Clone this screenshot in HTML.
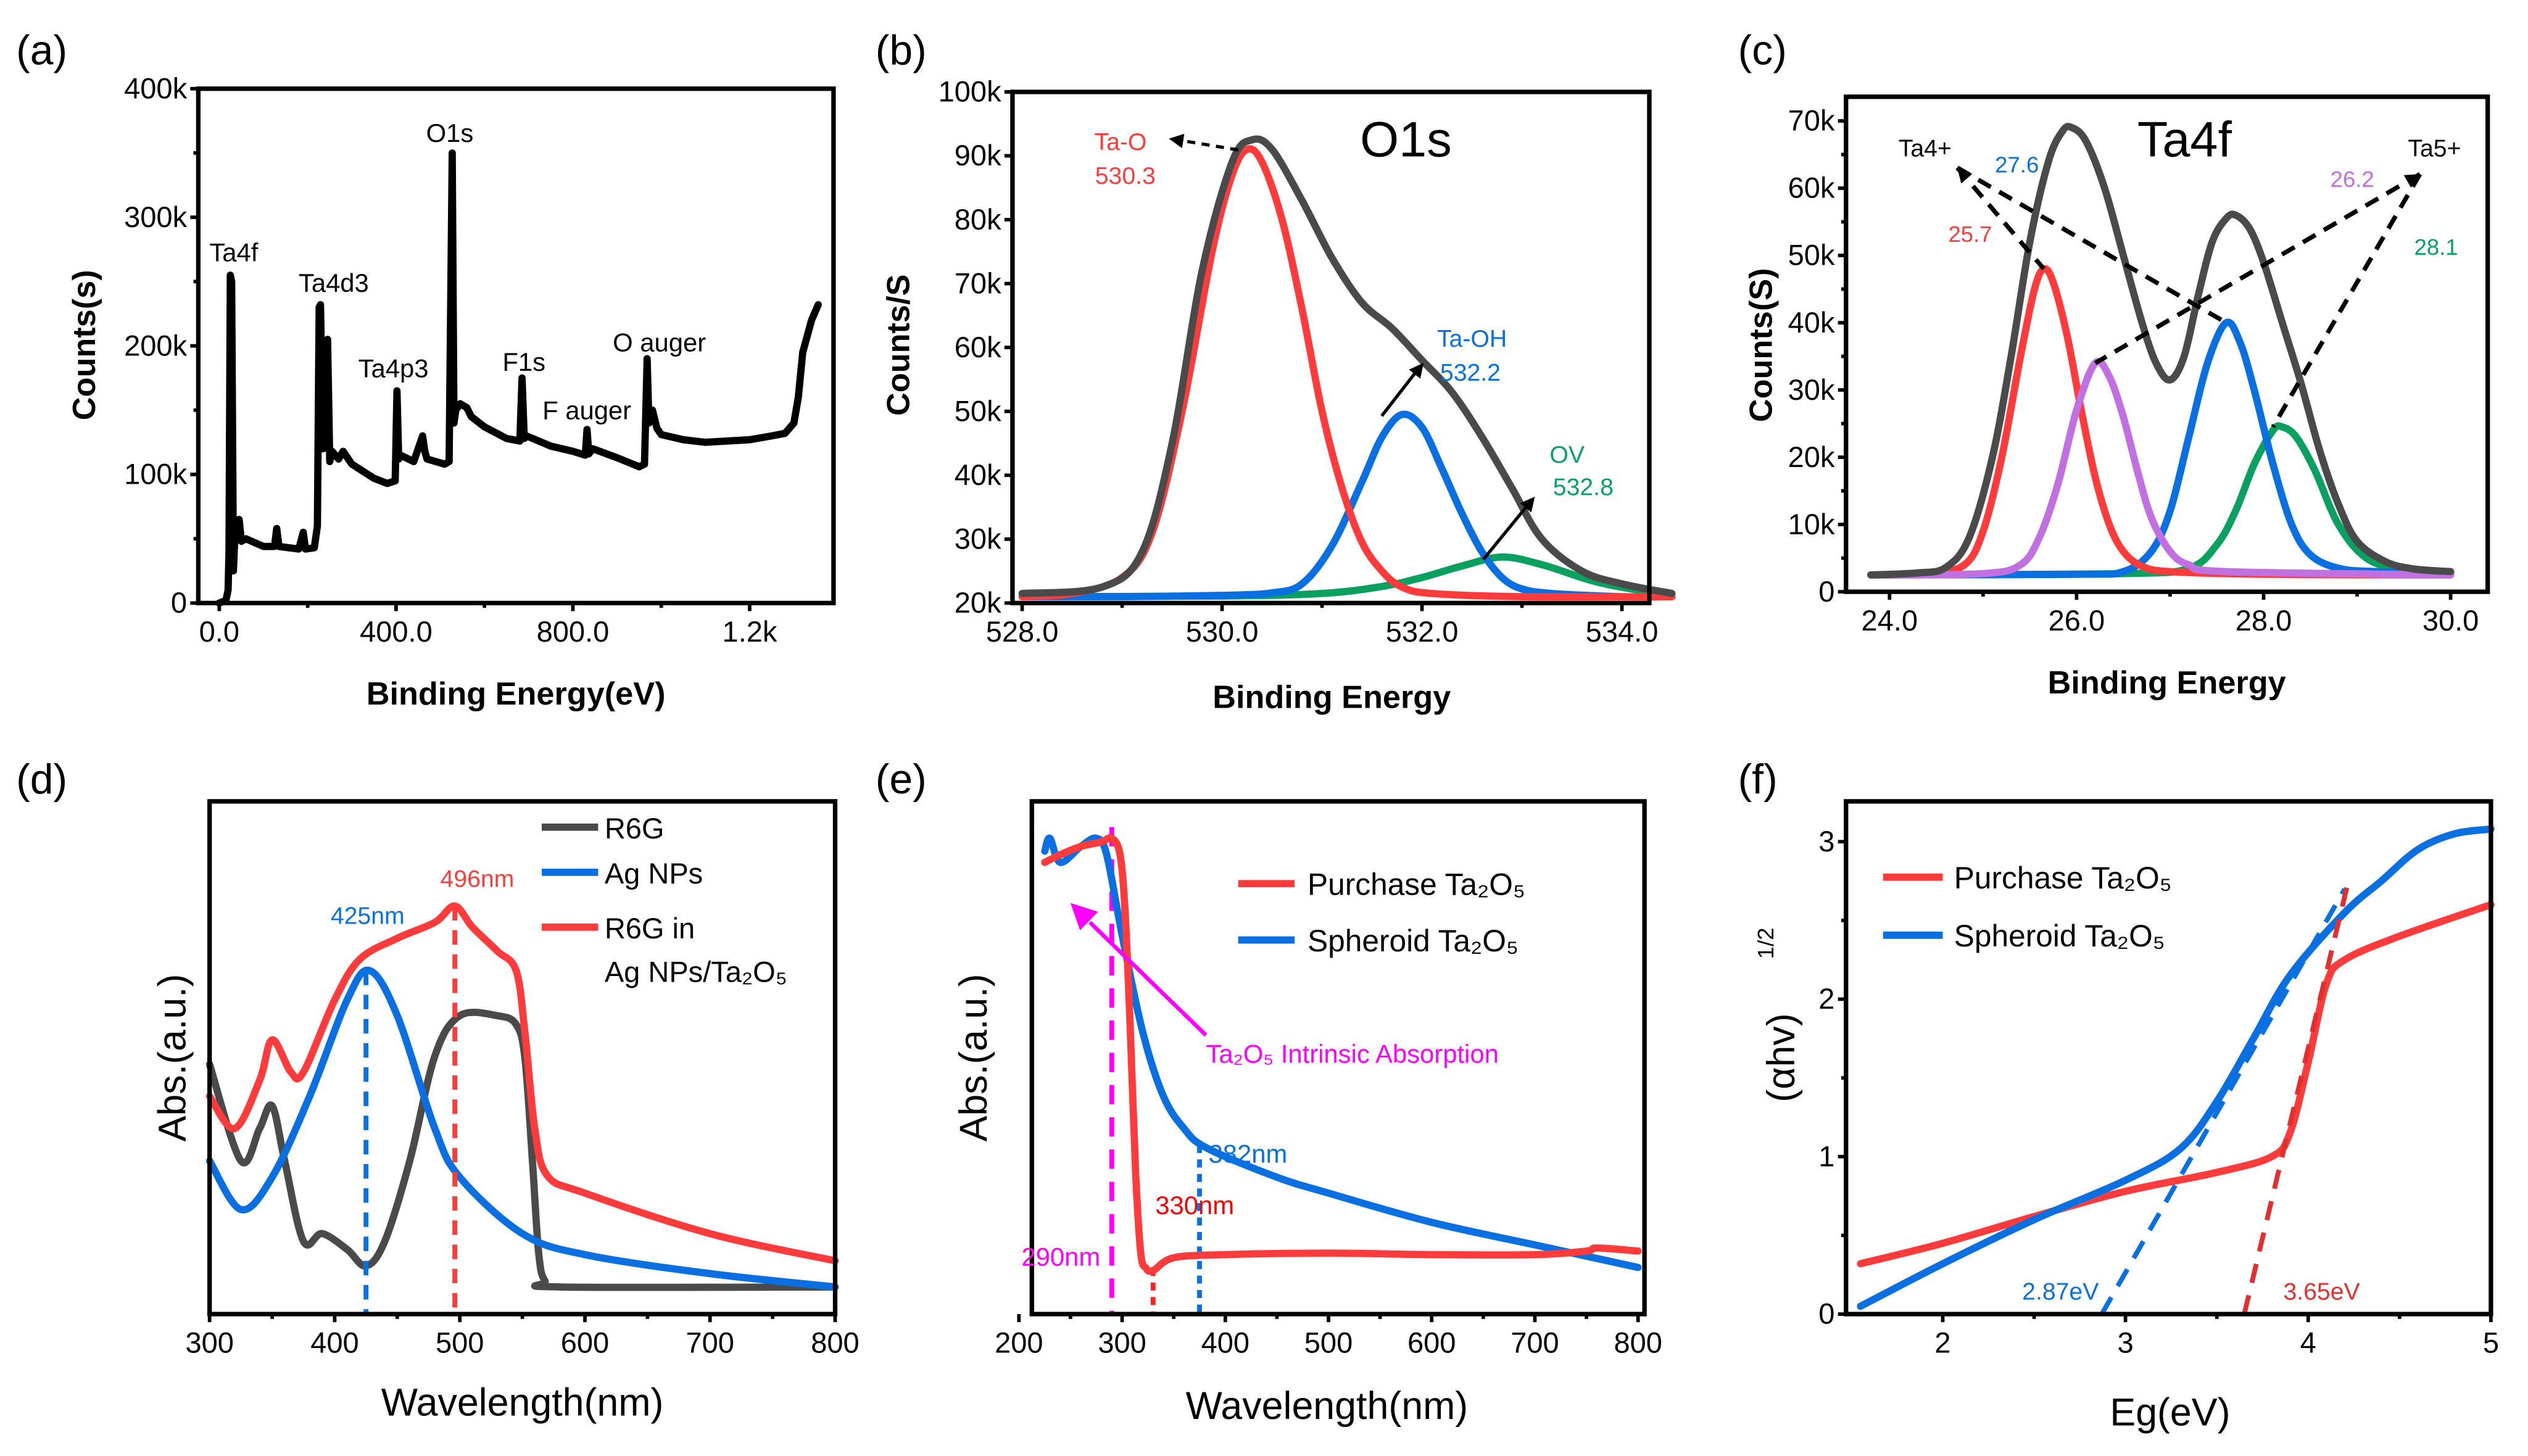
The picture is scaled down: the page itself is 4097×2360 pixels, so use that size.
<!DOCTYPE html>
<html><head><meta charset="utf-8"><style>
html,body{margin:0;padding:0;background:#fff}
svg{display:block}
text{font-family:"Liberation Sans",Arial,sans-serif}
</style></head><body>
<svg id="fig" xmlns="http://www.w3.org/2000/svg" width="4097" height="2360" viewBox="0 0 1568 903" preserveAspectRatio="none"></svg>
<script>
// ---------- data ----------
// (a) survey
const aX=[0,15,20,22,25,28,32,35,45,50,60,100,125,130,135,180,190,195,215,222,226,229,235,245,250,255,270,280,300,350,380,398,402,406,410,440,460,465,470,510,520,527,531,535,545,560,570,600,650,680,685,690,695,750,800,828,832,836,845,900,950,962,968,972,980,990,1000,1050,1100,1200,1250,1280,1300,1310,1320,1340,1355];
const aY=[0,2,10,40,255,250,25,50,65,48,50,44,44,58,44,42,55,42,43,60,230,232,120,205,110,118,112,118,108,97,93,95,165,112,115,110,130,118,112,108,110,350,140,150,155,152,145,137,128,126,175,128,130,122,118,115,135,116,120,113,106,108,190,140,150,136,131,127,125,127,130,132,140,160,195,220,232];
const aXt=[0,400,800,1200]; const aXl=["0.0","400.0","800.0","1.2k"];
const aYt=[0,100,200,300,400]; const aYl=["0","100k","200k","300k","400k"];
// (b) O1s
const bGx=[528,528.8,529.2,529.5,529.8,530.1,530.3,530.5,530.8,531.1,531.4,531.7,532,532.3,532.6,532.9,533.2,533.6,534,534.5];
const bGy=[21.5,22.5,28,45,72,89,92.5,91,83,74,67,63,58,53,46,38,30,25,23,21.5];
const bRx=[528,528.5,529,529.3,529.6,529.9,530.1,530.25,530.4,530.6,530.8,531.0,531.2,531.4,531.6,531.8,532.1,533,534.5];
const bRy=[21,21.5,24,31,50,75,87,91,89,80,66,50,38,29.5,25,22.5,21.5,21,21];
const bBx=[528,529,530,530.5,530.8,531.1,531.4,531.6,531.8,532.0,532.2,532.4,532.6,532.8,533.0,533.3,534,534.5];
const bBy=[21,21,21.2,21.6,23,29,39,46,49.5,47.5,41,34,28,24,22.2,21.5,21,21];
const bEx=[528,530,531,531.6,532,532.4,532.8,533.2,533.7,534.1,534.5];
const bEy=[21,21.1,21.5,22.6,24,25.8,27.2,26,23.5,22.2,21.5];
const bXt=[528,530,532,534]; const bXl=["528.0","530.0","532.0","534.0"];
const bYt=[20,30,40,50,60,70,80,90,100]; const bYl=["20k","30k","40k","50k","60k","70k","80k","90k","100k"];
// (c) Ta4f
const cGx=[23.8,24.3,24.6,24.85,25.1,25.3,25.5,25.7,25.85,25.95,26.1,26.3,26.5,26.7,26.85,27.0,27.15,27.3,27.45,27.6,27.7,27.85,28.0,28.2,28.4,28.6,28.8,29.0,29.3,29.6,30];
const cGy=[2.5,2.8,3.6,8,20,35,52,64,68.5,69,67,60,50,40,34,31.5,35,44,52,55.5,56,54,49,40,31,21,13,7.5,4.5,3.4,3];
const cRx=[23.8,24.4,24.8,25.0,25.2,25.4,25.55,25.65,25.75,25.9,26.05,26.2,26.35,26.5,26.7,27,28,30];
const cRy=[2.5,2.7,4,9,20,35,45,48,46,38,27,17,10,6,3.8,3,2.6,2.5];
const cPx=[23.8,25,25.4,25.6,25.8,26.0,26.2,26.35,26.5,26.65,26.8,27.0,27.2,27.6,30];
const cPy=[2.5,2.7,4,8,16,27,34,32,26,18,11,6,4,3,2.5];
const cBx=[23.8,26,26.5,26.8,27.0,27.2,27.4,27.6,27.75,27.9,28.1,28.3,28.5,28.8,29.2,30];
const cBy=[2.5,2.6,3,6,12,23,34,40,37,30,19,10,5.5,3.5,3,2.8];
const cEx=[23.8,26.5,27.2,27.5,27.7,27.9,28.1,28.2,28.35,28.55,28.8,29.1,29.5,30];
const cEy=[2.5,2.7,3.5,7,12,19,24,24.5,23,18,10,5,3.2,2.8];
const cXt=[24,26,28,30]; const cXl=["24.0","26.0","28.0","30.0"];
const cYt=[0,10,20,30,40,50,60,70]; const cYl=["0","10k","20k","30k","40k","50k","60k","70k"];
// (d) UV-vis
const dGx=[300,325,340,350,360,375,390,410,425,440,460,480,500,530,545,552,558,563,568,580,800];
const dGy=[48.7,29.9,36.2,40.6,29.9,14.2,15.7,12.6,9.4,14.2,29.9,50.3,58.2,58.2,56.5,50,30,12,6.5,5.3,5.3];
const dBx=[300,325,350,380,410,428,450,480,500,550,600,700,800];
const dBy=[29.9,20.4,26.7,42.5,61.3,67,58.2,36.2,26.7,15.7,11.6,7.9,5.3];
const dRx=[300,320,340,350,365,375,400,420,450,480,496,510,530,545,552,560,570,600,700,800];
const dRy=[42.5,36.2,45.6,53.5,47.2,47.2,61.3,69.2,73.3,76.4,79.6,75.5,70.8,67,55,36,27,23.6,15.7,10.4];
const dXt=[300,400,500,600,700,800];
// (e) UV-vis Ta2O5
const eRx=[225,240,260,280,290,298,303,308,313,318,323,330,350,400,500,600,700,750,760,800];
const eRy=[88.1,89.6,91.2,92.1,92.8,89.6,78,55,28,12,9,8.5,11,11.6,11.9,11.6,11.6,12.3,12.9,12.3];
const eBx=[225,230,240,260,275,285,300,320,340,360,382,450,500,600,700,800];
const eBy=[90.3,92.8,88.1,91.2,92.8,89.6,73.9,55,42.5,36.2,32.4,26.7,23.6,17.9,13.5,9.1];
const eXt=[200,300,400,500,600,700,800];
// (f) Tauc
const fRx=[1.55,2,2.5,3,3.5,3.8,3.9,4.0,4.1,4.2,4.5,5];
const fRy=[0.32,0.45,0.62,0.78,0.9,1.0,1.15,1.6,2.1,2.25,2.4,2.6];
const fBx=[1.55,2,2.5,3,3.3,3.5,3.7,3.9,4.2,4.4,4.6,4.8,5];
const fBy=[0.05,0.32,0.6,0.85,1.05,1.35,1.75,2.15,2.55,2.75,2.95,3.05,3.08];
const fXt=[2,3,4,5]; const fYt=[0,1,2,3];

// ---------- helpers ----------
const NS="http://www.w3.org/2000/svg", svg=document.getElementById('fig');
function mk(tag,attrs,name,parent){
  const el=document.createElementNS(NS,tag);
  for(const k in attrs) el.setAttribute(k,attrs[k]);
  
  
  (parent||svg).appendChild(el); return el;
}
function txt(x,y,s,size,name,o){
  o=o||{}; const a={x:x,y:y,'font-size':size,fill:o.fill||'#000','text-anchor':o.anchor||'middle'};
  if(o.bold) a['font-weight']='bold';
  if(o.rot) a.transform='rotate(-90 '+x+' '+y+')';
  const t=mk('text',a,name); t.textContent=s; return t;
}
function lin(d0,d1,r0,r1){return v=>r0+(v-d0)*(r1-r0)/(d1-d0);}
function smooth(pts){
  let d='M'+pts[0][0].toFixed(2)+','+pts[0][1].toFixed(2);
  for(let i=0;i<pts.length-1;i++){
    const p0=pts[i-1]||pts[i],p1=pts[i],p2=pts[i+1],p3=pts[i+2]||p2;
    const c1=[p1[0]+(p2[0]-p0[0])/6,p1[1]+(p2[1]-p0[1])/6];
    const c2=[p2[0]-(p3[0]-p1[0])/6,p2[1]-(p3[1]-p1[1])/6];
    d+='C'+c1.map(v=>v.toFixed(2))+' '+c2.map(v=>v.toFixed(2))+' '+p2.map(v=>v.toFixed(2));
  }
  return d;
}
function series(xs,ys,sx,sy,color,name,w,sm){
  const pts=xs.map((x,i)=>[sx(x),sy(ys[i])]);
  const d=sm?smooth(pts):'M'+pts.map(p=>p[0].toFixed(2)+','+p[1].toFixed(2)).join('L');
  mk('path',{d:d,fill:'none',stroke:color,'stroke-width':w||4.5,'stroke-linejoin':'round','stroke-linecap':'round'},name);
}
function frame(x0,y0,x1,y1,name){
  mk('rect',{x:x0,y:y0,width:x1-x0,height:y1-y0,fill:'none',stroke:'#000','stroke-width':2.8},name);
}
function xticks(ts,ls,sx,y,size,name,minor){
  ts.forEach((t,i)=>{
    const x=sx(t);
    mk('line',{x1:x,y1:y,x2:x,y2:y+5,stroke:'#000','stroke-width':2.2},name+'-tick');
    if(ls) txt(x,y+24,ls[i],size,name+'-label');
    if(minor && i<ts.length-1){const xm=(x+sx(ts[i+1]))/2; mk('line',{x1:xm,y1:y,x2:xm,y2:y+3,stroke:'#000','stroke-width':2.2},name+'-minor-tick');}
  });
}
function yticks(ts,ls,sy,x,size,name,minor){
  ts.forEach((t,i)=>{
    const y=sy(t);
    mk('line',{x1:x,y1:y,x2:x-5,y2:y,stroke:'#000','stroke-width':2.2},name+'-tick');
    if(ls) txt(x-7,y+6,ls[i],size,name+'-label',{anchor:'end'});
    if(minor && i<ts.length-1){const ym=(y+sy(ts[i+1]))/2; mk('line',{x1:x,y1:ym,x2:x-3,y2:ym,stroke:'#000','stroke-width':2.2},name+'-minor-tick');}
  });
}
function dash(x1,y1,x2,y2,color,name,da,w){
  mk('line',{x1:x1,y1:y1,x2:x2,y2:y2,stroke:color,'stroke-width':w||3,'stroke-dasharray':da||'9,6'},name);
}
function arrowHead(x1,y1,x2,y2,color,name,s){
  s=s||9; const a=Math.atan2(y2-y1,x2-x1);
  const p=[[x2,y2],[x2-s*Math.cos(a)+s*0.5*Math.sin(a),y2-s*Math.sin(a)-s*0.5*Math.cos(a)],[x2-s*Math.cos(a)-s*0.5*Math.sin(a),y2-s*Math.sin(a)+s*0.5*Math.cos(a)]];
  mk('polygon',{points:p.map(q=>q.join(',')).join(' '),fill:color},name);
}

// ---------- (a) ----------
{
 const sx=lin(0,1200,136,465), sy=lin(0,400,374,55);
 txt(10,40,'(a)',26,'panel-label-a',{anchor:'start'});
 series(aX,aY,sx,sy,'#000','survey-spectrum',4.5,false);
 frame(123,55,517,374,'plot-frame-a');
 xticks(aXt,aXl,sx,374,18,'x-axis-a',true);
 yticks(aYt,aYl,sy,123,18,'y-axis-a',true);
 txt(320,437,'Binding Energy(eV)',20,'x-axis-title-a',{bold:true});
 txt(59,214,'Counts(s)',20,'y-axis-title-a',{bold:true,rot:true});
 [['Ta4f',145,162],['Ta4d3',207,181],['Ta4p3',244,234],['O1s',279,88],['F1s',325,230],['F auger',364,260],['O auger',409,218]].forEach(l=>txt(l[1],l[2],l[0],16,'peak-label-'+l[0].replace(' ','-').toLowerCase()));
}
// ---------- (b) ----------
{
 const sx=lin(528,534,634,1006), sy=lin(20,100,374,57);
 txt(543,40,'(b)',26,'panel-label-b',{anchor:'start'});
 series(bEx,bEy,sx,sy,'#0aa060','ov-peak',4.5,true);
 series(bBx,bBy,sx,sy,'#0a6fe0','ta-oh-peak',4.5,true);
 series(bRx,bRy,sx,sy,'#ff3b3b','ta-o-peak',4.5,true);
 series(bGx,bGy,sx,sy,'#4a4a4a','o1s-envelope',4.5,true);
 frame(628,57,1023,374,'plot-frame-b');
 xticks(bXt,bXl,sx,374,18,'x-axis-b',true);
 yticks(bYt,bYl,sy,628,18,'y-axis-b',false);
 txt(826,439,'Binding Energy',20,'x-axis-title-b',{bold:true});
 txt(564,214,'Counts/S',20,'y-axis-title-b',{bold:true,rot:true});
 txt(872,97,'O1s',31,'plot-title-o1s');
 txt(695,93,'Ta-O',15,'label-ta-o',{fill:'#ff3b3b'}); txt(698,114,'530.3',15,'label-ta-o-value',{fill:'#ff3b3b'});
 txt(913,215,'Ta-OH',15,'label-ta-oh',{fill:'#0a6fe0'}); txt(912,236,'532.2',15,'label-ta-oh-value',{fill:'#0a6fe0'});
 txt(972,287,'OV',15,'label-ov',{fill:'#0aa060'}); txt(982,307,'532.8',15,'label-ov-value',{fill:'#0aa060'});
 dash(768,93,732,87,'#000','arrow-ta-o','5,4',2); arrowHead(768,93,725,86,'#000','arrow-head-ta-o');
 mk('line',{x1:857,y1:258,x2:878,y2:231,stroke:'#000','stroke-width':2},'arrow-ta-oh'); arrowHead(857,258,883,225,'#000','arrow-head-ta-oh');
 mk('line',{x1:920,y1:347,x2:947,y2:314,stroke:'#000','stroke-width':2},'arrow-ov'); arrowHead(920,347,952,308,'#000','arrow-head-ov');
}
// ---------- (c) ----------
{
 const sx=lin(24,30,1172,1520), sy=lin(0,70,367,75);
 txt(1078,40,'(c)',26,'panel-label-c',{anchor:'start'});
 series(cEx,cEy,sx,sy,'#0aa060','peak-28-1',4.5,true);
 series(cBx,cBy,sx,sy,'#0a6fe0','peak-27-6',4.5,true);
 series(cRx,cRy,sx,sy,'#ff3b3b','peak-25-7',4.5,true);
 series(cPx,cPy,sx,sy,'#c070e0','peak-26-2',4.5,true);
 series(cGx,cGy,sx,sy,'#4a4a4a','ta4f-envelope',4.5,true);
 frame(1145,60,1543,367,'plot-frame-c');
 xticks(cXt,cXl,sx,367,18,'x-axis-c',true);
 yticks(cYt,cYl,sy,1145,18,'y-axis-c',true);
 txt(1344,430,'Binding Energy',20,'x-axis-title-c',{bold:true});
 txt(1099,214,'Counts(S)',20,'y-axis-title-c',{bold:true,rot:true});
 txt(1355,97,'Ta4f',31,'plot-title-ta4f');
 txt(1194,97,'Ta4+',15,'label-ta4plus'); txt(1510,97,'Ta5+',15,'label-ta5plus');
 txt(1251,107,'27.6',14,'label-27-6',{fill:'#0a6fe0'}); txt(1222,150,'25.7',14,'label-25-7',{fill:'#ff3b3b'});
 txt(1459,116,'26.2',14,'label-26-2',{fill:'#c070e0'}); txt(1511,158,'28.1',14,'label-28-1',{fill:'#0aa060'});
 const t4=[1214,104], t5=[1501,108];
 dash(t4[0],t4[1],sx(25.65),sy(48),'#000','line-ta4-red','9,6',2.8);
 dash(t4[0],t4[1],sx(27.6),sy(40),'#000','line-ta4-blue','9,6',2.8);
 dash(t5[0],t5[1],sx(26.2),sy(34),'#000','line-ta5-purple','9,6',2.8);
 dash(t5[0],t5[1],sx(28.1),sy(24.5),'#000','line-ta5-green','9,6',2.8);
 arrowHead(sx(25.65),sy(48),t4[0],t4[1],'#000','arrow-head-ta4');
 arrowHead(sx(26.2),sy(34),t5[0],t5[1],'#000','arrow-head-ta5');
}
// ---------- (d) ----------
{
 const sx=lin(300,800,130,518), sy=lin(0,100,815,497);
 txt(10,492,'(d)',26,'panel-label-d',{anchor:'start'});
 series(dGx,dGy,sx,sy,'#4a4a4a','r6g-curve',4.5,true);
 series(dBx,dBy,sx,sy,'#0a6fe0','ag-nps-curve',4.5,true);
 series(dRx,dRy,sx,sy,'#ff3b3b','r6g-in-ag-ta2o5-curve',4.5,true);
 dash(sx(425),sy(67),sx(425),815,'#0a6fe0','marker-425nm','9,6',3);
 dash(sx(496),sy(79.6),sx(496),815,'#ff3b3b','marker-496nm','9,6',3);
 frame(130,497,518,815,'plot-frame-d');
 xticks(dXt,dXt.map(String),sx,815,18,'x-axis-d',true);
 txt(324,878,'Wavelength(nm)',24,'x-axis-title-d');
 txt(115,656,'Abs.(a.u.)',24,'y-axis-title-d',{rot:true});
 txt(228,573,'425nm',15,'label-425nm',{fill:'#0a6fe0'}); txt(296,550,'496nm',15,'label-496nm',{fill:'#ff3b3b'});
 [['R6G','#4a4a4a',520],['Ag NPs','#0a6fe0',548],['R6G in','#ff3b3b',582]].forEach(l=>{
  mk('line',{x1:336,y1:l[2]-7,x2:371,y2:l[2]-7,stroke:l[1],'stroke-width':4.5},'legend-line-'+l[0].replace(' ','-').toLowerCase());
  txt(375,l[2],l[0],18,'legend-entry-'+l[0].replace(' ','-').toLowerCase(),{anchor:'start'});
 });
 txt(375,609,'Ag NPs/Ta\u2082O\u2085',18,'legend-entry-r6g-in-cont',{anchor:'start'});
}
// ---------- (e) ----------
{
 const sx=lin(200,800,632,1016), sy=lin(0,100,815,497);
 txt(543,492,'(e)',26,'panel-label-e',{anchor:'start'});
 dash(sx(290),sy(95),sx(290),815,'#ff00ff','marker-290nm','12,8',3);
 dash(sx(330),sy(9),sx(330),815,'#ff2020','marker-330nm','5,4',3);
 dash(sx(375),sy(33),sx(375),815,'#0a6fe0','marker-382nm','5,4',3);
 series(eBx,eBy,sx,sy,'#0a6fe0','spheroid-ta2o5-curve',4.5,true);
 series(eRx,eRy,sx,sy,'#ff3b3b','purchase-ta2o5-curve',4.5,true);
 frame(640,497,1020,815,'plot-frame-e');
 xticks(eXt,eXt.map(String),sx,815,18,'x-axis-e',true);
 txt(823,880,'Wavelength(nm)',24,'x-axis-title-e');
 txt(612,656,'Abs.(a.u.)',24,'y-axis-title-e',{rot:true});
 mk('line',{x1:768,y1:548,x2:803,y2:548,stroke:'#ff3b3b','stroke-width':4.5},'legend-line-purchase');
 txt(811,555,'Purchase Ta\u2082O\u2085',19,'legend-entry-purchase',{anchor:'start'});
 mk('line',{x1:768,y1:583,x2:803,y2:583,stroke:'#0a6fe0','stroke-width':4.5},'legend-line-spheroid');
 txt(811,590,'Spheroid Ta\u2082O\u2085',19,'legend-entry-spheroid',{anchor:'start'});
 mk('line',{x1:748,y1:642,x2:676,y2:572,stroke:'#ff00ff','stroke-width':2.5},'arrow-intrinsic');
 arrowHead(748,642,664,560,'#ff00ff','arrow-head-intrinsic',16);
 txt(748,659,'Ta\u2082O\u2085 Intrinsic Absorption',16,'label-intrinsic',{anchor:'start',fill:'#ff00ff'});
 txt(774,721,'382nm',16,'label-382nm',{fill:'#0a6fe0'});
 txt(741,753,'330nm',16,'label-330nm',{fill:'#ff0000'});
 txt(658,785,'290nm',16,'label-290nm',{fill:'#ff00ff'});
}
// ---------- (f) ----------
{
 const sx=lin(2,5,1205,1545), sy=lin(0,3,815,522);
 txt(1078,492,'(f)',26,'panel-label-f',{anchor:'start'});
 series(fRx,fRy,sx,sy,'#ff3b3b','purchase-tauc-curve',4.5,true);
 series(fBx,fBy,sx,sy,'#0a6fe0','spheroid-tauc-curve',4.5,true);
 dash(sx(2.87),sy(0),sx(4.2),sy(2.7),'#0a6fe0','tangent-2-87ev','12,8',3);
 dash(sx(3.65),sy(0),sx(4.22),sy(2.75),'#e03030','tangent-3-65ev','12,8',3);
 frame(1145,497,1545,815,'plot-frame-f');
 xticks(fXt,fXt.map(String),sx,815,18,'x-axis-f',true);
 yticks(fYt,fYt.map(String),sy,1145,18,'y-axis-f',true);
 txt(1346,884,'Eg(eV)',24,'x-axis-title-f');
 txt(1113,656,'(\u03b1hv)',24,'y-axis-title-f',{rot:true});
 txt(1100,585,'1/2',14,'y-axis-title-f-exp',{rot:true});
 mk('line',{x1:1168,y1:544,x2:1205,y2:544,stroke:'#ff3b3b','stroke-width':4.5},'legend-line-purchase-f');
 txt(1212,551,'Purchase Ta\u2082O\u2085',19,'legend-entry-purchase-f',{anchor:'start'});
 mk('line',{x1:1168,y1:580,x2:1205,y2:580,stroke:'#0a6fe0','stroke-width':4.5},'legend-line-spheroid-f');
 txt(1212,587,'Spheroid Ta\u2082O\u2085',19,'legend-entry-spheroid-f',{anchor:'start'});
 txt(1278,806,'2.87eV',15,'label-2-87ev',{fill:'#0a6fe0'});
 txt(1440,806,'3.65eV',15,'label-3-65ev',{fill:'#e03030'});
}
</script>
</body></html>
